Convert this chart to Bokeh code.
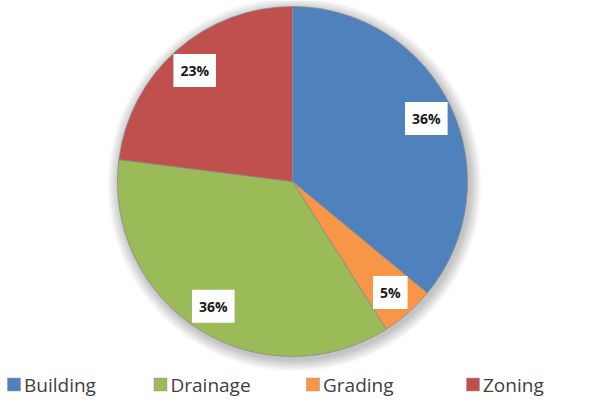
import math
from bokeh.plotting import figure
from bokeh.models import ColumnDataSource
from bokeh.core.properties import value
from bokeh.embed import file_html
from bokeh.resources import INLINE

categories = ["Building", "Grading", "Drainage", "Zoning"]
percents = [36, 5, 36, 23]
colors = ["#4F81BD", "#F79646", "#9BBB59", "#C0504D"]
legend_order = ["Building", "Drainage", "Grading", "Zoning"]

W, H = 598, 401
cx, cy, R = 292, 220, 175

p = figure(width=W, height=H, x_range=(0, W), y_range=(0, H),
           output_backend="svg", toolbar_location=None, min_border=0)
p.axis.visible = False
p.grid.visible = False
p.outline_line_color = None
p.background_fill_color = "white"
p.border_fill_color = "white"

# soft shadow
for i in range(1, 13):
    p.circle(x=[cx + 2], y=[cy - 3], radius=R + i, fill_color="black",
             fill_alpha=0.018, line_color=None)

total = sum(percents)
starts, ends, lx, ly, labels = [], [], [], [], []
cum = 0.0
for v in percents:
    a0 = math.pi / 2 - 2 * math.pi * cum / total
    cum += v
    a1 = math.pi / 2 - 2 * math.pi * cum / total
    starts.append(a0)
    ends.append(a1)
    mid = (a0 + a1) / 2
    lx.append(cx + 0.845 * R * math.cos(mid))
    ly.append(cy + 0.845 * R * math.sin(mid))
    labels.append(f"{v}%")

src = ColumnDataSource(dict(start=starts, end=ends, color=colors,
                            lx=lx, ly=ly, label=labels))
p.wedge(x=cx, y=cy, radius=R, start_angle="start", end_angle="end",
        direction="clock", fill_color="color", line_color="#8a8a8a",
        line_width=0.8, source=src)

p.text(x="lx", y="ly", text="label", source=src, text_align="center",
       text_baseline="middle", text_font=value("Open Sans"),
       text_font_style="bold", text_font_size="14px", text_color="#1a1a1a",
       background_fill_color="white", padding=7)

# legend
leg_sw_x = [13.5, 160, 312.5, 472.5]
leg_y = 17
leg_colors = [colors[categories.index(c)] for c in legend_order]
p.rect(x=leg_sw_x, y=[leg_y] * 4, width=13, height=13, fill_color=leg_colors,
       line_color="#999999", line_width=0.5)
p.text(x=[x + 10 for x in leg_sw_x], y=[leg_y] * 4, text=legend_order,
       text_align="left", text_baseline="middle",
       text_font=value("Open Sans"), text_font_size="19px",
       text_color="#404040")

open("out.html", "w").write(file_html(p, INLINE))
